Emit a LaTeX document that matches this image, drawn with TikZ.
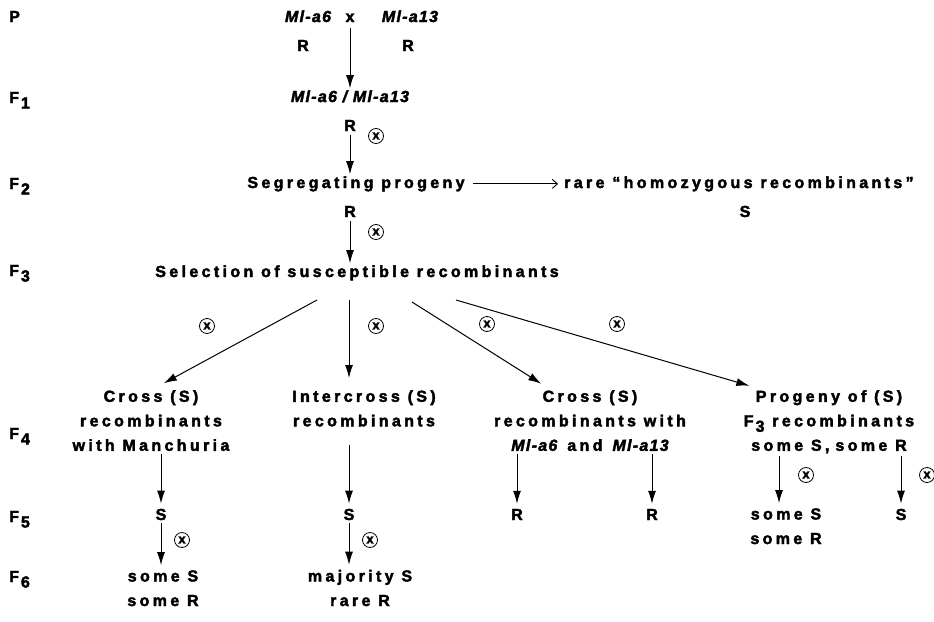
\documentclass[tikz,border=0pt]{standalone}
\usepackage{fontspec}
\setmainfont{Liberation Sans}[LetterSpace=21, BoldFeatures={FakeBold=2.5}, BoldItalicFeatures={FakeBold=2.5}]
\usetikzlibrary{arrows.meta}
\newcommand{\fsz}{\fontsize{16}{24.5}\selectfont\bfseries}
\newcommand{\Fsub}[1]{F\hspace{2pt}\raisebox{-5.5pt}{#1}}
\newcommand{\gn}[1]{{\addfontfeature{LetterSpace=8}\itshape #1}}
\begin{document}
\begin{tikzpicture}[x=1pt,y=-1pt,
  every node/.style={font=\fsz, inner sep=2pt, align=center},
  t/.style={anchor=base},
  lab/.style={anchor=base west, inner sep=0pt},
  blk/.style={anchor=north},
  arr/.style={-{Latex[length=13pt,width=8pt]}, line width=1pt},
  harr/.style={-{Straight Barb[length=5pt,width=9pt]}, line width=0.9pt},
  self/.style={circle, draw, line width=0.8pt, inner sep=0pt, minimum size=15pt,
    font=\bfseries\fontsize{13}{13}\selectfont}]
\path[use as bounding box] (0,0) rectangle (934,621);

% generation labels
\node[lab] (lP)  at (9,22)  {P};
\node[lab] (lF1) at (9,103) {\Fsub{1}};
\node[lab] (lF2) at (9,189) {\Fsub{2}};
\node[lab] (lF3) at (9,276) {\Fsub{3}};
\node[lab] (lF4) at (9,439) {\Fsub{4}};
\node[lab] (lF5) at (9,522) {\Fsub{5}};
\node[lab] (lF6) at (9,582) {\Fsub{6}};

% P and F1
\node[t] (a6)  at (308,22) {\gn{Ml-a6}};
\node[t] (cx)  at (350,22) {x};
\node[t] (a13) at (410,22) {\gn{Ml-a13}};
\node[t] (r6)  at (303,51) {R};
\node[t] (r13) at (408,51) {R};
\node[t] (f1)  at (350,102) {\gn{Ml-a6 / Ml-a13}};
\node[t] (f1r) at (350,131) {R};
\draw[arr, shorten <=4pt] (cx.south) -- (cx |- f1.north);
\node[self] (x1) at (376,136) {x};

% F2
\node[t] (seg)  at (356,188) {Segregating progeny};
\node[t] (segr) at (350,217) {R};
\node[t, anchor=base west] (rare) at (562,188) {rare “homozygous recombinants”};
\node[t] (rareS) at (745,217) {S};
\draw[arr, shorten <=2pt] (f1r.south) -- (f1r |- seg.north);
\draw[harr, shorten <=6pt, shorten >=4pt] (seg.east) -- (rare.west);
\node[self] (x2) at (376,232) {x};

% F3
\node[t] (sel) at (357,277) {Selection of susceptible recombinants};
\draw[arr, shorten <=2pt] (segr.south) -- (segr |- sel.north);
\coordinate (s1) at (317,300);
\coordinate (s2) at (349,300);
\coordinate (s3) at (412,302);
\coordinate (s4) at (456,300);
\node[self] (x3) at (207,326) {x};
\node[self] (x4) at (376,326) {x};
\node[self] (x5) at (487,324) {x};
\node[self] (x6) at (617,324) {x};

% F4
\node[blk] (c1) at (151,388) {Cross (S)\\recombinants\\with Manchuria};
\node[blk] (ic) at (364,388) {Intercross (S)\\recombinants};
\node[blk] (c2) at (590,388) {Cross (S)\\recombinants with\\\gn{Ml-a6}\hspace{10pt}and\hspace{10pt}\gn{Ml-a13}};
\node[blk] (pg) at (829,388) {Progeny of (S)\\\Fsub{3} recombinants\\some S,\hspace{6pt}some R};
\draw[arr, shorten >=10pt] (s1) -- ([xshift=4pt]c1.north);
\draw[arr, shorten >=10pt] (s2) -- ([xshift=-15pt]ic.north);
\draw[arr, shorten >=8pt] (s3) -- ([xshift=-42pt]c2.north);
\draw[arr, shorten >=8pt] (s4) -- ([xshift=-72pt]pg.north);

% F5
\node[t] (S1) at (161,520) {S};
\node[t] (S2) at (349,520) {S};
\node[t] (R1) at (517,520) {R};
\node[t] (R2) at (652,520) {R};
\node[t] (sr) at (786,544) {some S\\some R};
\node[t] (S3) at (901,520) {S};
\coordinate (t5) at ([xshift=-7pt]sr.north);
\draw[arr, shorten <=1pt, shorten >=3pt] (S1 |- c1.south) -- (S1.north);
\draw[arr, shorten <=16pt, shorten >=3pt] (S2 |- ic.south) -- (S2.north);
\draw[arr, shorten <=1pt, shorten >=3pt] (R1 |- c2.south) -- (R1.north);
\draw[arr, shorten <=1pt, shorten >=3pt] (R2 |- c2.south) -- (R2.north);
\draw[arr, shorten <=1pt, shorten >=3pt] (t5 |- pg.south) -- (t5);
\draw[arr, shorten <=1pt, shorten >=3pt] (S3 |- pg.south) -- (S3.north);
\node[self] (x7) at (806,475) {x};
\node[self] (x8) at (927,475) {x};

% F6
\node[t] (g1) at (163,606) {some S\\some R};
\node[t] (g2) at (360,606) {majority S\\rare R};
\draw[arr, shorten <=1pt, shorten >=3pt] (S1.south) -- (S1 |- g1.north);
\draw[arr, shorten <=1pt, shorten >=3pt] (S2.south) -- (S2 |- g2.north);
\node[self] (x9)  at (182,540) {x};
\node[self] (x10) at (370,540) {x};
\end{tikzpicture}
\end{document}
